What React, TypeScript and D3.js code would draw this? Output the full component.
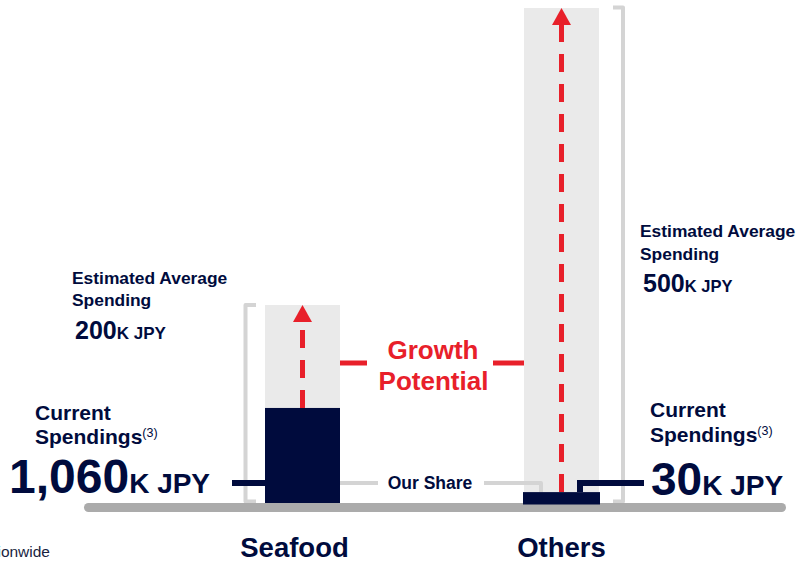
import React from "react";
import * as d3 from "d3";

const categories = ["Seafood", "Others"];
const estimatedAvg = [200, 500];
const ourShare = [96, 11];
const estimatedLabels = ["200", "500"];
const currentLabels = ["1,060", "30"];

const W = 799;
const H = 561;
const NAVY = "#000B3D";
const RED = "#E8202A";
const BG = "#EAEAEA";
const BRK = "#D4D4D4";
const BASE = "#ABABAB";
const FONT = "'Liberation Sans', Arial, sans-serif";

export default function App() {
  const x = d3.scalePoint<string>().domain(categories).range([302.5, 561.5]);
  const y = d3.scaleLinear().domain([0, 500]).range([503, 8]);
  const bw = 75;

  const sx = x("Seafood")!;
  const ox = x("Others")!;

  const arrow = (cx: number, bottom: number, tip: number, key: string) => (
    <g key={key}>
      <line x1={cx} x2={cx} y1={bottom} y2={tip + 17} stroke={RED} strokeWidth={5} strokeDasharray="18 12" />
      <path d={`M${cx},${tip} L${cx + 9.5},${tip + 17} L${cx - 9.5},${tip + 17} Z`} fill={RED} />
    </g>
  );

  const sTop = y(estimatedAvg[0]);
  const oTop = y(estimatedAvg[1]);
  const sShare = y(ourShare[0]);
  const oShare = y(ourShare[1]);

  return (
    <div style={{ position: "fixed", left: 0, top: 0, width: W, height: H }}>
      <svg width={W} height={H} style={{ display: "block" }} fontFamily={FONT}>
        <rect width={W} height={H} fill="#fff" />
        {/* background (estimated) bars */}
        {categories.map((c, i) => (
          <rect key={"bg" + c} x={x(c)! - bw / 2} y={y(estimatedAvg[i])} width={bw} height={y(0) - y(estimatedAvg[i])} fill={BG} />
        ))}
        {/* brackets */}
        <path d={`M256,${sTop} L245.5,${sTop} L245.5,${y(0) - 1.5} L256,${y(0) - 1.5}`} fill="none" stroke={BRK} strokeWidth={4} strokeLinejoin="round" />
        <path d={`M613,${oTop - 0.5} L623,${oTop - 0.5} L623,${y(0) - 1.5} L613,${y(0) - 1.5}`} fill="none" stroke={BRK} strokeWidth={4} strokeLinejoin="round" />

        {/* Our share gray connector */}
        <path d={`M${sx + bw / 2},483 L378,483`} stroke={BRK} strokeWidth={4} fill="none" />
        <path d={`M484,483 L541,483 L541,${oShare}`} stroke={BRK} strokeWidth={4} fill="none" strokeLinejoin="round" />
        <text x={430} y={489} textAnchor="middle" fontSize={17.5} fontWeight="bold" fill={NAVY}>Our Share</text>

        {/* baseline */}
        <rect x={84} y={503} width={702} height={9} rx={4.5} fill={BASE} />

        {/* share bars */}
        <rect x={sx - bw / 2} y={sShare} width={bw} height={y(0) - sShare} fill={NAVY} />
        <rect x={ox - bw / 2 - 1} y={oShare} width={bw + 2} height={y(0) - oShare + 1.5} fill={NAVY} />

        {/* arrows */}
        {arrow(sx, sShare, sTop, "a1")}
        {arrow(ox, oShare, oTop, "a2")}

        {/* navy connectors */}
        <line x1={232} x2={sx - bw / 2} y1={483} y2={483} stroke={NAVY} strokeWidth={6} />
        <path d={`M580,${oShare} L580,483 L644,483`} stroke={NAVY} strokeWidth={6} fill="none" />

        {/* growth potential */}
        <line x1={sx + bw / 2} x2={367} y1={363} y2={363} stroke={RED} strokeWidth={5} />
        <line x1={493} x2={ox - bw / 2} y1={363} y2={363} stroke={RED} strokeWidth={5} />
        <text x={433} y={359} textAnchor="middle" fontSize={26} fontWeight="bold" fill={RED}>Growth</text>
        <text x={433.5} y={390} textAnchor="middle" fontSize={26} fontWeight="bold" fill={RED}>Potential</text>

        {/* left labels */}
        <text x={72} y={284} fontSize={17.4} fontWeight="bold" fill={NAVY}>Estimated Average</text>
        <text x={72} y={306} fontSize={17.4} fontWeight="bold" fill={NAVY}>Spending</text>
        <text x={75} y={339} fontWeight="bold" fill={NAVY}>
          <tspan fontSize={25}>{estimatedLabels[0]}</tspan>
          <tspan fontSize={17}>K JPY</tspan>
        </text>
        <text x={35} y={420} fontSize={21} fontWeight="bold" fill={NAVY}>Current</text>
        <text x={35} y={444} fontSize={21} fontWeight="bold" fill={NAVY}>
          Spendings<tspan fontSize={12.5} fontWeight="normal" dy={-7}>(3)</tspan>
        </text>
        <text x={9} y={493} fontWeight="bold" fill={NAVY}>
          <tspan fontSize={48}>{currentLabels[0]}</tspan>
          <tspan fontSize={28}>K JPY</tspan>
        </text>

        {/* right labels */}
        <text x={640} y={237} fontSize={17.4} fontWeight="bold" fill={NAVY}>Estimated Average</text>
        <text x={640} y={260} fontSize={17.4} fontWeight="bold" fill={NAVY}>Spending</text>
        <text x={643} y={292} fontWeight="bold" fill={NAVY}>
          <tspan fontSize={25}>{estimatedLabels[1]}</tspan>
          <tspan fontSize={16.5}>K JPY</tspan>
        </text>
        <text x={650} y={417} fontSize={21} fontWeight="bold" fill={NAVY}>Current</text>
        <text x={650} y={442} fontSize={21} fontWeight="bold" fill={NAVY}>
          Spendings<tspan fontSize={12.5} fontWeight="normal" dy={-7}>(3)</tspan>
        </text>
        <text x={651} y={495} fontWeight="bold" fill={NAVY}>
          <tspan fontSize={46}>{currentLabels[1]}</tspan>
          <tspan fontSize={28}>K JPY</tspan>
        </text>

        {/* category labels */}
        {categories.map((c) => (
          <text key={"cat" + c} x={c === "Seafood" ? x(c)! - 8 : x(c)!} y={557} textAnchor="middle" fontSize={27.5} fontWeight="bold" fill={NAVY}>{c}</text>
        ))}

        {/* footnote fragment */}
        <text x={50} y={557} textAnchor="end" fontSize={15.5} fill="#1a1f3f">Nationwide</text>
      </svg>
    </div>
  );
}
